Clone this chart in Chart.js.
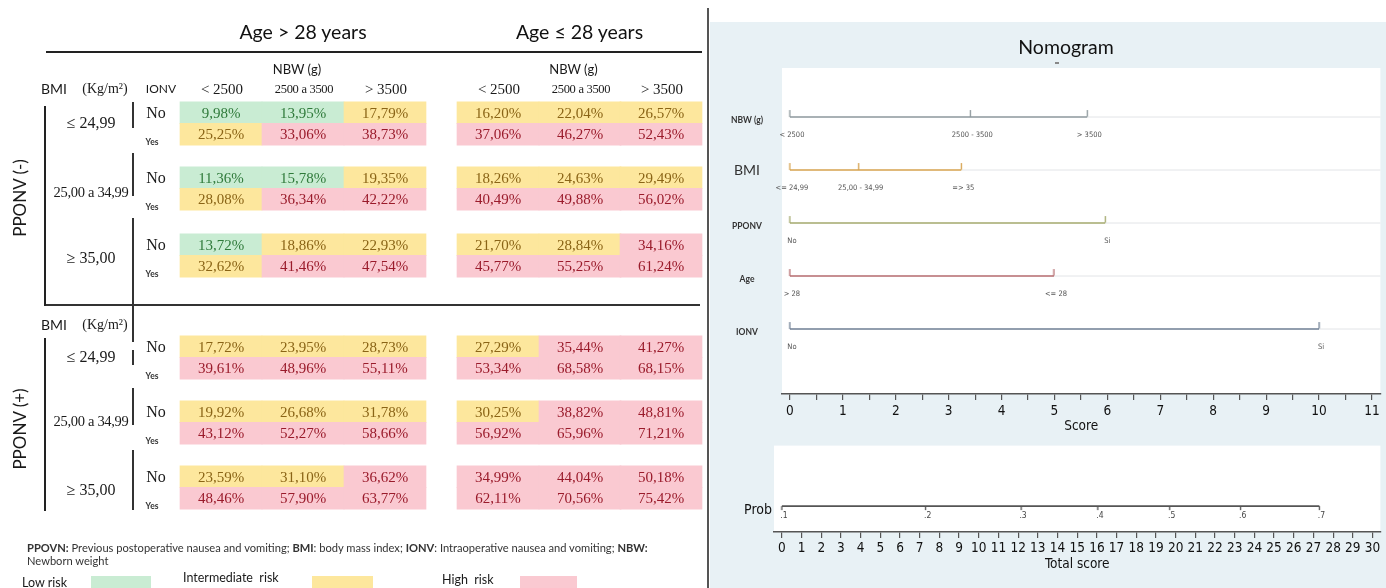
<!DOCTYPE html>
<html>
<head>
<meta charset="utf-8">
<script src="https://cdn.jsdelivr.net/npm/chart.js@4.4.1/dist/chart.umd.min.js"></script>
<style>
  body { margin: 0; width: 1386px; height: 588px; overflow: hidden; background: #fff; position: relative; font-family: Lato, sans-serif; }
  .t { position: absolute; white-space: nowrap; color: #1a1a1a; line-height: 1; }
  .serif { font-family: "Liberation Serif", serif; }
  .box { position: absolute; }
  canvas { position: absolute; }
</style>
</head>
<body>
<div class="box" style="left:710px;top:22px;width:676px;height:566px;background:#e8f1f5"></div>
<div class="box" style="left:707px;top:8px;width:2px;height:580px;background:#555"></div>
<canvas id="tbl" width="705" height="588" style="left:0;top:0;width:705px;height:588px"></canvas>
<canvas id="nomo" width="674" height="418" style="left:712px;top:22px;width:674px;height:418px"></canvas>
<canvas id="prob" width="674" height="148" style="left:712px;top:440px;width:674px;height:148px"></canvas>
<script>
// ---- table data ----
var ageGroups = ["Age > 28 years", "Age \u2264 28 years"];
var nbwCols = ["< 2500", "2500 a 3500", "> 3500"];
var pponvGroups = ["PPONV (-)", "PPONV (+)"];
var bmiGroups = ["\u2264 24,99", "25,00 a 34,99", "\u2265 35,00"];
var ionvRows = ["No", "Yes"];

// one row per IONV line, columns: age>28 (<2500, 2500-3500, >3500) then age<=28
var riskValues = [
  [9.98, 13.95, 17.79, 16.20, 22.04, 26.57],
  [25.25, 33.06, 38.73, 37.06, 46.27, 52.43],
  [11.36, 15.78, 19.35, 18.26, 24.63, 29.49],
  [28.08, 36.34, 42.22, 40.49, 49.88, 56.02],
  [13.72, 18.86, 22.93, 21.70, 28.84, 34.16],
  [32.62, 41.46, 47.54, 45.77, 55.25, 61.24],
  [17.72, 23.95, 28.73, 27.29, 35.44, 41.27],
  [39.61, 48.96, 55.11, 53.34, 68.58, 68.15],
  [19.92, 26.68, 31.78, 30.25, 38.82, 48.81],
  [43.12, 52.27, 58.66, 56.92, 65.96, 71.21],
  [23.59, 31.10, 36.62, 34.99, 44.04, 50.18],
  [48.46, 57.90, 63.77, 62.11, 70.56, 75.42]
];
// 0 low, 1 intermediate, 2 high
var riskLevel = [
  [0, 0, 1, 1, 1, 1],
  [1, 2, 2, 2, 2, 2],
  [0, 0, 1, 1, 1, 1],
  [1, 2, 2, 2, 2, 2],
  [0, 1, 1, 1, 1, 2],
  [1, 2, 2, 2, 2, 2],
  [1, 1, 1, 1, 2, 2],
  [2, 2, 2, 2, 2, 2],
  [1, 1, 1, 1, 2, 2],
  [2, 2, 2, 2, 2, 2],
  [1, 1, 2, 2, 2, 2],
  [2, 2, 2, 2, 2, 2]
];
var riskNames = ["Low risk", "Intermediate  risk", "High  risk"];

// ---- nomogram data ----
var nomoVars = ["NBW (g)", "BMI", "PPONV", "Age", "IONV"];
var nomoLevels = [
  ["< 2500", "2500 - 3500", "> 3500"],
  ["<= 24,99", "25,00 - 34,99", "=> 35"],
  ["No", "Si"],
  ["> 28", "<= 28"],
  ["No", "Si"]
];
var nomoPoints = [
  [0, 3.41, 5.62],
  [0, 1.30, 3.24],
  [0, 5.96],
  [0, 4.99],
  [0, 10]
];
var probLabels = [".1", ".2", ".3", ".4", ".5", ".6", ".7"];
var probTotals = [0, 7.3, 12.15, 16.05, 19.7, 23.3, 27.3];
var scoreMax = 11;
var totalMax = 30;

// ---- layout / styles ----
var FILL = ["#c9ecd3", "#fde79d", "#fac9d1"];
var INK = ["#2f7a3a", "#8a6416", "#9a1b2b"];
var nomoColors = ["#8d979c", "#d6a24e", "#a3a86c", "#b46a6e", "#6e7e93"];
var colLeft = [180, 262, 344, 457, 539, 620];
var colW = 82;
var blockTop = [102, 167, 234, 336, 401, 466];
var rowH = 21.5;
var bmiLabelY = [123, 192, 258, 357, 421, 490];
var narrow = "'Liberation Sans Narrow', 'DejaVu Sans Condensed', 'Liberation Sans', Arial, sans-serif";

function put(txt, cx, cy, css) {
  var d = document.createElement("div");
  d.className = "t";
  d.innerHTML = txt;
  d.style.cssText = "left:" + cx + "px;top:" + cy + "px;transform:translate(-50%,-50%);" + (css || "");
  document.body.appendChild(d);
  return d;
}
function putL(txt, x, cy, css) {
  var d = put(txt, x, cy, css);
  d.style.transform = "translateY(-50%)";
  return d;
}
function rule(x, y, w, h, c) {
  var d = document.createElement("div");
  d.className = "box";
  d.style.cssText = "left:" + x + "px;top:" + y + "px;width:" + w + "px;height:" + h + "px;background:" + (c || "#222");
  document.body.appendChild(d);
}

// table frame
rule(46, 51, 656, 2, "#222");
rule(45, 304, 655, 2, "#333");
rule(44, 106, 2, 200, "#222");
rule(44, 338, 2, 173, "#222");
[[102, 128], [153, 196], [218, 342], [350, 365], [388, 425], [450, 510]].forEach(function(s) {
  rule(132, s[0], 1.5, s[1] - s[0], "#333");
});

// headers
ageGroups.forEach(function(a, g) {
  var mid = (colLeft[g * 3] + colLeft[g * 3 + 2] + colW) / 2;
  put(a, mid, 32, "font-size:19.5px;color:#111;");
  put("NBW (g)", mid - 6, 69, "font-size:13px;");
  nbwCols.forEach(function(n, c) {
    var small = n.indexOf(" a ") > 0;
    put(n, colLeft[g * 3 + c] + colW / 2 + 1, 89, "font-size:" + (small ? 12.5 : 15) + "px;" + (small ? "letter-spacing:-0.3px;" : ""))
      .className = "t serif";
  });
});
[89, 325].forEach(function(y) {
  put("BMI", 54, y, "font-size:14px;");
  put("(Kg/m\u00b2)", 105, y, "font-size:14px;").className = "t serif";
});
put("IONV", 161, 89, "font-size:12px;");

pponvGroups.forEach(function(p, i) {
  put(p, 19, i ? 429 : 198, "font-size:17px;transform:translate(-50%,-50%) rotate(-90deg);");
});
blockTop.forEach(function(top, b) {
  var lab = bmiGroups[b % 3];
  put(lab, 91, bmiLabelY[b], "font-size:" + (b % 3 === 1 ? 14.5 : 16) + "px;" + (b % 3 === 1 ? "letter-spacing:-0.3px;" : "")).className = "t serif";
  put(ionvRows[0], 156, top + rowH / 2, "font-size:16px;").className = "t serif";
  put(ionvRows[1], 152, top + rowH * 1.5 + 8, "font-size:8.5px;font-weight:bold;color:#333;");
});

// footnote
var foot = putL("<b>PPOVN:</b> Previous postoperative nausea and vomiting; <b>BMI</b>: body mass index; <b>IONV</b>: Intraoperative nausea and vomiting; <b>NBW:</b>",
  27, 548, "font-size:9px;color:#333;");
foot.style.fontSize = (9 * 621 / foot.offsetWidth) + "px";
putL("Newborn weight", 27, 561, "font-size:" + foot.style.fontSize + ";color:#333;");
var legX = [[22, 91, 60], [183, 312, 61], [442, 520, 57]];
var legY = [583, 578, 580];
riskNames.forEach(function(n, i) {
  putL(n, legX[i][0], legY[i], "font-size:12.5px;white-space:pre;");
  rule(legX[i][1], 576, legX[i][2], 12, FILL[i]);
});

// nomogram titles
put("Nomogram", 1066, 47, "font-size:19.5px;color:#111;");
rule(1055, 62, 4, 1.5, "#888");

// ---- table cells via Chart.js floating bars ----
var cellData = [];
riskValues.forEach(function(row, r) {
  var top = blockTop[Math.floor(r / 2)];
  var yc = top + (r % 2) * rowH + rowH / 2;
  row.forEach(function(v, c) {
    cellData.push({ x: [colLeft[c], colLeft[c] + colW], y: yc, v: v, lv: riskLevel[r][c] });
  });
});

var cellLabels = {
  id: "cellLabels",
  afterDatasetsDraw: function(chart) {
    var g = chart.ctx, sx = chart.scales.x, sy = chart.scales.y;
    g.save();
    g.font = '15px "Liberation Serif", serif';
    g.textAlign = "center";
    g.textBaseline = "middle";
    chart.data.datasets[0].data.forEach(function(d) {
      g.fillStyle = INK[d.lv];
      g.fillText(d.v.toFixed(2).replace(".", ",") + "%", sx.getPixelForValue((d.x[0] + d.x[1]) / 2), sy.getPixelForValue(d.y) + 1);
    });
    g.restore();
  }
};

new Chart(document.getElementById("tbl"), {
  type: "bar",
  data: {
    datasets: [{
      data: cellData,
      backgroundColor: function(ctx) { return ctx.raw ? FILL[ctx.raw.lv] : FILL[0]; },
      borderWidth: 0,
      borderSkipped: false,
      barThickness: rowH + 0.4
    }]
  },
  options: {
    indexAxis: "y",
    responsive: false,
    animation: false,
    events: [],
    devicePixelRatio: 1,
    layout: { padding: 0 },
    scales: {
      x: { type: "linear", min: 0, max: 705, display: false },
      y: { type: "linear", min: 0, max: 588, reverse: true, offset: false, display: false }
    },
    plugins: { legend: { display: false }, tooltip: { enabled: false } }
  },
  plugins: [cellLabels]
});

// ---- nomogram ----
function tickImg(color, up, len) {
  var c = document.createElement("canvas");
  c.width = 3;
  c.height = len * 2 + 2;
  var g = c.getContext("2d");
  var mid = c.height / 2;
  g.strokeStyle = color;
  g.lineWidth = 1.3;
  g.beginPath();
  g.moveTo(1.5, mid);
  g.lineTo(1.5, up ? mid - len : mid + len);
  g.stroke();
  return c;
}

var whiteArea = {
  id: "whiteArea",
  beforeDraw: function(chart) {
    var a = chart.chartArea, g = chart.ctx;
    g.save();
    g.fillStyle = "#fff";
    g.fillRect(a.left, a.top, a.right - a.left, a.bottom - a.top);
    g.restore();
  }
};

function stepTicks(step, max) {
  return function(scale) {
    var t = [];
    for (var v = 0; v <= max + 1e-9; v += step) t.push({ value: Math.round(v * 10) / 10 });
    scale.ticks = t;
  };
}

var nomoSets = [];
nomoVars.forEach(function(name, i) {
  var pts = nomoPoints[i];
  nomoSets.push({
    data: [{ x: pts[pts.length - 1], y: i }, { x: 11.2, y: i }],
    borderColor: "#e2e5e7", borderWidth: 1, pointRadius: 0
  });
  nomoSets.push({
    data: pts.map(function(p) { return { x: p, y: i }; }),
    borderColor: nomoColors[i], borderWidth: 1.6,
    pointStyle: tickImg(nomoColors[i], true, 7), pointRadius: 4
  });
});

var nomoText = {
  id: "nomoText",
  afterDatasetsDraw: function(chart) {
    var g = chart.ctx, sx = chart.scales.x, sy = chart.scales.y;
    g.save();
    g.textBaseline = "middle";
    nomoVars.forEach(function(name, i) {
      var y = sy.getPixelForValue(i);
      g.textAlign = "center";
      g.fillStyle = "#333";
      g.font = i === 1 ? "14px Lato, sans-serif" : "bold 8.5px Lato, sans-serif";
      g.fillText(name, 35, y + (i === 1 ? 0 : 3));
      g.font = "7.5px " + narrow;
      g.fillStyle = "#555";
      nomoLevels[i].forEach(function(l, k) {
        g.fillText(l, sx.getPixelForValue(nomoPoints[i][k]) + 2, y + 18);
      });
    });
    g.restore();
  }
};

new Chart(document.getElementById("nomo"), {
  type: "line",
  data: { datasets: nomoSets },
  options: {
    responsive: false,
    animation: false,
    events: [],
    devicePixelRatio: 1,
    layout: { padding: { left: 70, top: 46, right: 0, bottom: 5 } },
    scales: {
      x: {
        type: "linear", min: -0.15, max: 11.16,
        afterBuildTicks: stepTicks(0.5, scoreMax),
        afterFit: function(s) { s.height = 41; },
        grid: { display: true, drawOnChartArea: false, drawTicks: true, tickLength: 6, color: "#555", lineWidth: 1.2 },
        border: { display: true, color: "#555", width: 1.6 },
        ticks: {
          autoSkip: false, maxRotation: 0, padding: 3, color: "#111",
          font: { family: narrow, size: 13.5 },
          callback: function(v) { return Number.isInteger(v) ? String(v) : ""; }
        },
        title: { display: true, text: "Score", color: "#111", font: { family: narrow, size: 13.5 }, padding: 0 }
      },
      y: { type: "linear", min: -0.925, max: 5.226, reverse: true, display: false }
    },
    plugins: { legend: { display: false }, tooltip: { enabled: false } }
  },
  plugins: [whiteArea, nomoText]
});

var probText = {
  id: "probText",
  afterDatasetsDraw: function(chart) {
    var g = chart.ctx, sx = chart.scales.x, sy = chart.scales.y;
    var y = sy.getPixelForValue(0);
    g.save();
    g.textBaseline = "middle";
    g.fillStyle = "#111";
    g.textAlign = "right";
    g.font = "14px " + narrow;
    g.fillText("Prob", 60, y + 4);
    g.textAlign = "center";
    g.font = "8.5px " + narrow;
    g.fillStyle = "#444";
    probLabels.forEach(function(l, k) {
      g.fillText(l, sx.getPixelForValue(probTotals[k]) + 2, y + 10);
    });
    g.restore();
  }
};

new Chart(document.getElementById("prob"), {
  type: "line",
  data: {
    datasets: [{
      data: probTotals.map(function(t) { return { x: t, y: 0 }; }),
      borderColor: "#555", borderWidth: 1.6,
      pointStyle: tickImg("#555", false, 4), pointRadius: 3
    }]
  },
  options: {
    responsive: false,
    animation: false,
    events: [],
    devicePixelRatio: 1,
    layout: { padding: { left: 62, top: 5, right: 0, bottom: 15 } },
    scales: {
      x: {
        type: "linear", min: -0.4, max: 30.4,
        afterBuildTicks: stepTicks(1, totalMax),
        afterFit: function(s) { s.height = 41; },
        grid: { display: true, drawOnChartArea: false, drawTicks: true, tickLength: 6, color: "#555", lineWidth: 1.2 },
        border: { display: true, color: "#555", width: 1.6 },
        ticks: { autoSkip: false, maxRotation: 0, padding: 2, color: "#111", font: { family: narrow, size: 13.5 } },
        title: { display: true, text: "Total score", color: "#111", font: { family: narrow, size: 13.5 }, padding: 0 }
      },
      y: { type: "linear", min: -0.3, max: 0.7, display: false }
    },
    plugins: { legend: { display: false }, tooltip: { enabled: false } }
  },
  plugins: [whiteArea, probText]
});
</script>
</body>
</html>
